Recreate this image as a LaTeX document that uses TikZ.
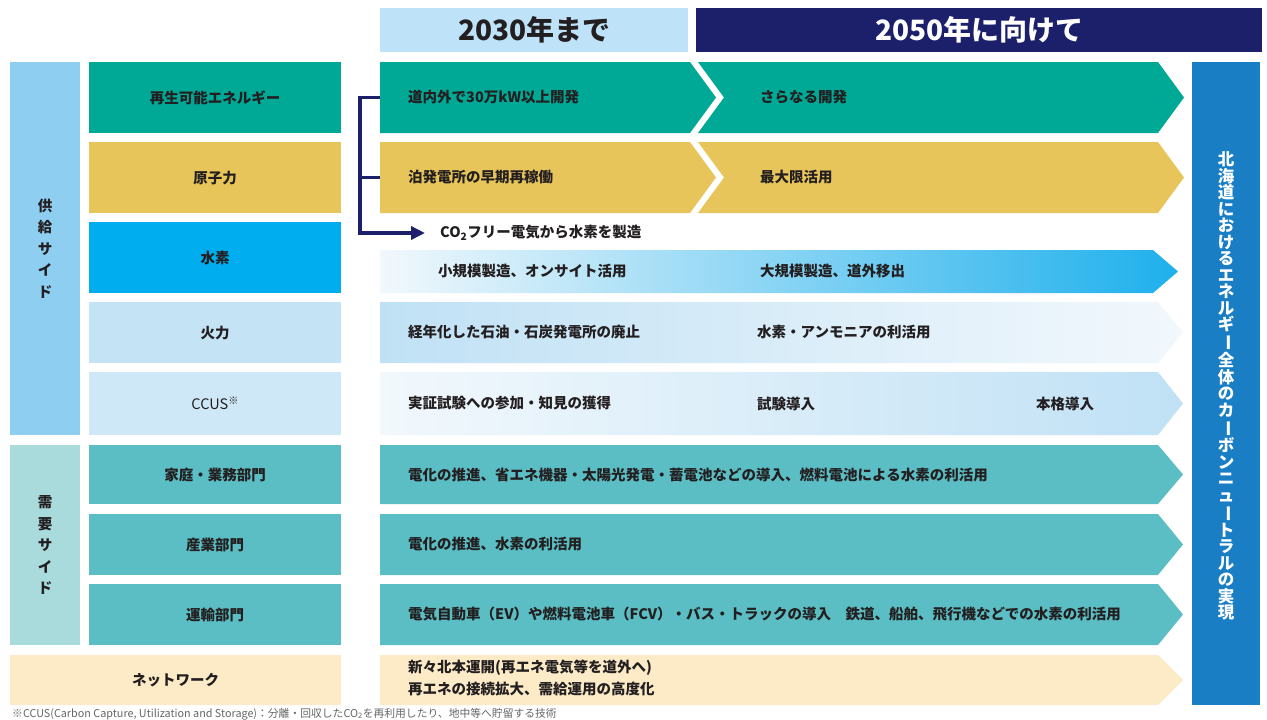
\documentclass[tikz,border=0pt]{standalone}
\usepackage{fontspec}
\usepackage{graphicx}
\setmainfont{Noto Sans CJK JP}
\usetikzlibrary{positioning, arrows.meta}
\definecolor{inkC}{RGB}{35,31,32}
\definecolor{reneC}{RGB}{0,168,150}
\definecolor{nucC}{RGB}{232,197,90}
\definecolor{h2C}{RGB}{0,174,239}
\definecolor{h2R}{RGB}{30,176,236}
\definecolor{thC}{RGB}{196,228,246}
\definecolor{ccC}{RGB}{207,232,248}
\definecolor{paleC}{RGB}{242,248,252}
\definecolor{midC}{RGB}{192,225,245}
\definecolor{supC}{RGB}{142,206,241}
\definecolor{demSideC}{RGB}{169,218,220}
\definecolor{demC}{RGB}{91,190,196}
\definecolor{netC}{RGB}{253,235,200}
\definecolor{h30C}{RGB}{190,227,248}
\definecolor{navyC}{RGB}{28,32,107}
\definecolor{goalC}{RGB}{26,126,197}
\newcommand\vchou{\rotatebox[origin=c]{-90}{ー}}

\begin{document}
\begin{tikzpicture}[x=1pt, y=-1pt,
    lblbox/.style={anchor=north west, inner sep=0pt, minimum width=252pt, font=\bfseries\fontsize{14.5}{17}\selectfont, text=inkC},
    sidebox/.style={anchor=north west, inner sep=0pt, minimum width=70pt, font=\bfseries\fontsize{14.5}{21.5}\selectfont, text=inkC, align=center},
    atext/.style={anchor=west, inner sep=0pt, font=\bfseries\fontsize{14.5}{17}\selectfont, text=inkC},
    hdr/.style={anchor=north west, inner sep=0pt, minimum height=44pt, font=\bfseries\fontsize{28}{30}\selectfont},
    conn/.style={draw=navyC, line width=3.4pt}]
  \useasboundingbox[fill=white] (0,0) rectangle (1267,720);
  % headers
  \node[hdr, fill=h30C, minimum width=308pt, text=inkC] (h30) at (380,8) {2030年まで};
  \node[hdr, fill=navyC, minimum width=566pt, text=white] (h50) at (696,8) {2050年に向けて};
  % side columns
  \node[sidebox, fill=supC, minimum height=373pt] (sup) at (10,62) {供\\給\\サ\\イ\\ド};
  \node[sidebox, fill=demSideC, minimum height=200pt] (dem) at (10,445) {需\\要\\サ\\イ\\ド};
  % row labels
  \node[lblbox, fill=reneC, minimum height=71pt] (re) at (89,62) {再生可能エネルギー};
  \node[lblbox, fill=nucC, minimum height=71pt] (nu) at (89,142) {原子力};
  \node[lblbox, fill=h2C, minimum height=71pt] (h2) at (89,222) {水素};
  \node[lblbox, fill=thC, minimum height=61pt] (th) at (89,302) {火力};
  \node[lblbox, fill=ccC, minimum height=63pt, font=\fontsize{14.5}{17}\selectfont] (cc) at (89,372) {CCUS\textsuperscript{※}};
  \node[lblbox, fill=demC, minimum height=59pt] (home) at (89,445) {家庭・業務部門};
  \node[lblbox, fill=demC, minimum height=61pt] (ind) at (89,514) {産業部門};
  \node[lblbox, fill=demC, minimum height=61pt] (tr) at (89,584) {運輸部門};
  \node[lblbox, fill=netC, minimum height=50pt, minimum width=331pt] (net) at (10,655) {ネットワーク};
  % arrows
  \foreach \t/\b/\c in {62/133/reneC, 142/213/nucC} {
    \fill[\c] (380,\t) -- (690,\t) -- (716,{(\t+\b)/2}) -- (690,\b) -- (380,\b) -- cycle;
    \fill[\c] (698,\t) -- (1158,\t) -- (1184,{(\t+\b)/2}) -- (1158,\b) -- (698,\b) -- (724,{(\t+\b)/2}) -- cycle;
  }
  \shade[left color=paleC, right color=h2R] (380,250) -- (1153,250) -- (1178,271.5) -- (1153,293) -- (380,293) -- cycle;
  \shade[left color=midC, right color=paleC] (380,302) -- (1158,302) -- (1183,332.5) -- (1158,363) -- (380,363) -- cycle;
  \shade[left color=paleC, right color=midC] (380,372) -- (1158,372) -- (1183,403.5) -- (1158,435) -- (380,435) -- cycle;
  \foreach \t/\b/\c in {445/504/demC, 514/575/demC, 584/645/demC, 655/705/netC}
    \fill[\c] (380,\t) -- (1158,\t) -- (1183,{(\t+\b)/2}) -- (1158,\b) -- (380,\b) -- cycle;
  % goal column
  \node[fill=goalC, anchor=north west, inner sep=0pt, minimum width=68pt, minimum height=643pt] (goal) at (1192,62) {};
  \node[text=white, align=center, inner sep=0pt, font=\bfseries\fontsize{16.5}{16.5}\selectfont] (goaltxt) at ([yshift=-2.5pt]goal.center)
    {北\\海\\道\\に\\お\\け\\る\\エ\\ネ\\ル\\ギ\\\vchou\\全\\体\\の\\カ\\\vchou\\ボ\\ン\\ニ\\ュ\\\vchou\\ト\\ラ\\ル\\の\\実\\現};
  % arrow texts
  \node[atext] (reA) at (408,97.5) {道内外で30万kW以上開発};
  \node[atext] (reB) at (760,97.5) {さらなる開発};
  \node[atext] (nuA) at (408,177.5) {泊発電所の早期再稼働};
  \node[atext] (nuB) at (760,177.5) {最大限活用};
  \node[atext] (co2) at (440,233) {CO\textsubscript{2}フリー電気から水素を製造};
  \node[atext] (h2A) at (438,271.5) {小規模製造、オンサイト活用};
  \node[atext] (h2B) at (760,271.5) {大規模製造、道外移出};
  \node[atext] (thA) at (408,332.5) {経年化した石油・石炭発電所の廃止};
  \node[atext] (thB) at (757,332.5) {水素・アンモニアの利活用};
  \node[atext] (ccA) at (408,403.5) {実証試験への参加・知見の獲得};
  \node[atext] (ccB) at (757,403.5) {試験導入};
  \node[atext] (ccC) at (1036,403.5) {本格導入};
  \node[atext] (homeA) at (408,474.5) {電化の推進、省エネ機器・太陽光発電・蓄電池などの導入、燃料電池による水素の利活用};
  \node[atext] (indA) at (408,544.5) {電化の推進、水素の利活用};
  \node[atext] (trA) at (408,614.5) {電気自動車（EV）や燃料電池車（FCV）・バス・トラックの導入　鉄道、船舶、飛行機などでの水素の利活用};
  \node[atext, anchor=south west] (netA) at (408,676) {新々北本運開(再エネ電気等を道外へ)};
  \node[atext, anchor=north west] (netB) at (408,682) {再エネの接続拡大、需給運用の高度化};
  % connector
  \coordinate (reIn) at (380,97.5);
  \coordinate (nuIn) at (380,177.5);
  \coordinate (brk) at (360,233);
  \draw[conn, -{Triangle[length=14pt, width=13pt]}] (reIn) -| (brk) -- ([xshift=-15pt]co2.west);
  \draw[conn] (nuIn) -- (nuIn -| brk);
  % footnote
  \node[anchor=west, inner sep=0pt, text=black!60, font=\fontsize{10.8}{12}\selectfont] (note) at (12,714) {※CCUS(Carbon Capture, Utilization and Storage)：分離・回収したCO\textsubscript{2}を再利用したり、地中等へ貯留する技術};
\end{tikzpicture}
\end{document}
